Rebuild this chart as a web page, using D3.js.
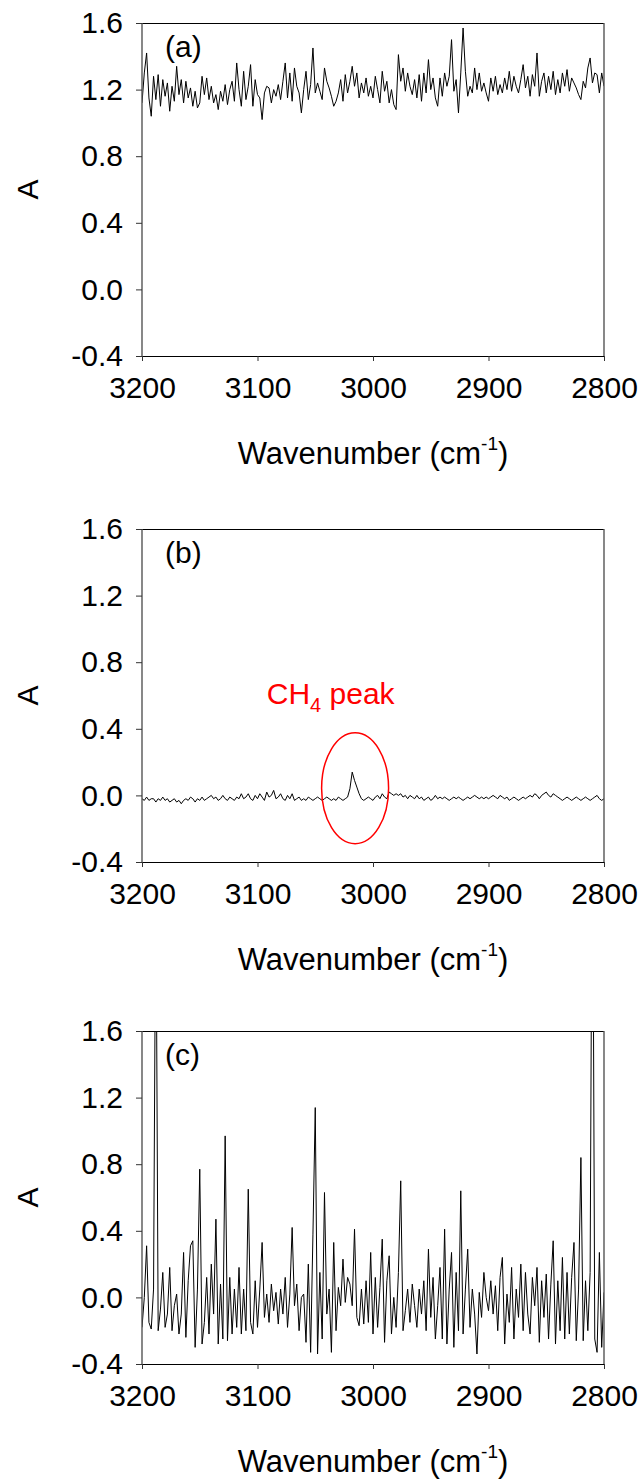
<!DOCTYPE html>
<html>
<head>
<meta charset="utf-8">
<script src="https://cdn.jsdelivr.net/npm/d3@7"></script>
<style>
  body { margin: 0; background: #fff; }
  text { font-family: "Liberation Sans", Arial, sans-serif; }
</style>
</head>
<body>
<div id="fig"></div>
<script>
const fig_width = 643
const fig_height = 1482

// wavenumber grid of the spectra, 2 cm-1 steps from 3200 down to 2800
const wavenumbers = d3.range(3200, 2799, -2)

// (a) absorbance
const absorbance_a = [
  1.12, 1.30, 1.42, 1.15, 1.04, 1.28, 1.14, 1.29, 1.10, 1.26,
  1.16, 1.24, 1.07, 1.22, 1.13, 1.34, 1.17, 1.26, 1.12, 1.25,
  1.15, 1.21, 1.10, 1.19, 1.09, 1.12, 1.28, 1.17, 1.27, 1.14,
  1.22, 1.12, 1.17, 1.08, 1.19, 1.13, 1.23, 1.11, 1.20, 1.25,
  1.13, 1.36, 1.20, 1.10, 1.31, 1.14, 1.22, 1.35, 1.10, 1.26,
  1.17, 1.15, 1.02, 1.18, 1.22, 1.21, 1.12, 1.20, 1.16, 1.23,
  1.14, 1.25, 1.36, 1.15, 1.30, 1.13, 1.33, 1.22, 1.18, 1.06,
  1.20, 1.31, 1.14, 1.23, 1.45, 1.18, 1.24, 1.19, 1.14, 1.33,
  1.25, 1.21, 1.16, 1.10, 1.13, 1.18, 1.26, 1.13, 1.29, 1.18,
  1.25, 1.34, 1.22, 1.30, 1.15, 1.24, 1.18, 1.27, 1.16, 1.22,
  1.15, 1.28, 1.20, 1.12, 1.31, 1.19, 1.25, 1.12, 1.20, 1.11,
  1.08, 1.41, 1.25, 1.33, 1.19, 1.30, 1.22, 1.17, 1.26, 1.15,
  1.29, 1.13, 1.30, 1.18, 1.38, 1.20, 1.27, 1.15, 1.10, 1.27,
  1.16, 1.30, 1.22, 1.28, 1.50, 1.19, 1.26, 1.06, 1.30, 1.57,
  1.31, 1.16, 1.22, 1.18, 1.33, 1.20, 1.30, 1.19, 1.24, 1.18,
  1.13, 1.27, 1.19, 1.28, 1.17, 1.23, 1.18, 1.27, 1.20, 1.31,
  1.19, 1.28, 1.22, 1.18, 1.26, 1.35, 1.21, 1.28, 1.16, 1.29,
  1.22, 1.42, 1.16, 1.25, 1.30, 1.18, 1.28, 1.20, 1.31, 1.17,
  1.26, 1.18, 1.30, 1.22, 1.32, 1.19, 1.27, 1.24, 1.21, 1.17,
  1.14, 1.25, 1.21, 1.33, 1.39, 1.24, 1.30, 1.29, 1.18, 1.30,
  1.22
]

// (b) absorbance, flat with the CH4 band near 3017
const absorbance_b = [
  -0.02, -0.03, -0.01, -0.03, -0.02, -0.02, -0.04, -0.02, -0.03, -0.01,
  -0.03, -0.02, -0.04, -0.03, -0.02, -0.04, -0.03, -0.05, -0.03, -0.02,
  -0.03, -0.01, -0.02, -0.04, -0.02, -0.03, -0.01, -0.03, -0.02, -0.01,
  0.00, -0.02, -0.01, -0.03, -0.02, 0.00, -0.02, -0.03, -0.01, -0.02,
  -0.03, -0.01, -0.02, 0.01, -0.02, -0.01, 0.01, -0.02, -0.03, 0.00,
  -0.02, 0.01, -0.01, -0.03, 0.02, -0.01, 0.00, 0.03, -0.02, -0.01,
  0.01, -0.02, -0.03, 0.00, -0.02, 0.01, -0.03, -0.02, -0.01, -0.03,
  -0.02, -0.03, -0.01, -0.02, -0.03, -0.02, -0.01, -0.02, -0.03, -0.02,
  -0.01, -0.02, -0.03, -0.02, -0.03, -0.01, -0.02, -0.03, -0.02, -0.01,
  0.04, 0.14, 0.09, 0.05, 0.01, -0.02, -0.03, -0.02, -0.01, -0.02,
  -0.03, -0.01, 0.00, -0.02, 0.01, -0.01, -0.02, 0.02, 0.01, 0.00,
  0.01, 0.00, 0.01, -0.01, 0.00, -0.02, 0.00, -0.01, -0.02, 0.00,
  -0.02, -0.01, -0.03, -0.02, -0.01, -0.03, -0.02, 0.00, -0.02, -0.01,
  -0.02, -0.01, -0.02, -0.03, -0.02, -0.01, -0.02, -0.01, -0.02, -0.03,
  -0.02, -0.01, -0.02, -0.01, 0.00, -0.01, -0.02, -0.01, -0.02, -0.01,
  -0.02, -0.01, 0.00, -0.01, -0.02, 0.00, -0.01, -0.02, -0.01, -0.03,
  -0.02, -0.01, -0.02, -0.03, -0.02, -0.01, -0.02, -0.01, 0.00, -0.01,
  0.01, 0.00, -0.02, 0.00, 0.01, 0.02, 0.00, -0.01, 0.01, 0.00,
  -0.01, -0.02, -0.03, -0.02, -0.01, -0.02, -0.03, -0.02, -0.01, -0.02,
  -0.03, -0.02, -0.01, -0.02, -0.03, -0.02, -0.01, 0.00, -0.02, -0.03,
  -0.02
]

// (c) absorbance, noisy with two spikes running off the top
const absorbance_c = [
  -0.18, 0.00, 0.31, -0.15, -0.19, 0.05, 2.60, -0.20, -0.07, 0.15,
  -0.18, -0.10, 0.18, -0.20, -0.05, 0.02, -0.22, -0.10, 0.27, -0.24,
  0.10, 0.31, 0.34, -0.30, 0.05, 0.77, -0.28, -0.15, 0.12, -0.22,
  0.20, -0.10, 0.47, -0.28, 0.08, -0.25, 0.97, -0.26, 0.12, -0.22,
  0.05, -0.18, 0.18, -0.22, 0.05, -0.20, 0.65, -0.15, -0.22, 0.10,
  -0.18, 0.05, 0.33, -0.12, 0.02, -0.15, 0.08, -0.08, 0.03, -0.16,
  0.05, -0.10, 0.12, -0.18, 0.02, 0.42, -0.05, 0.08, -0.20, 0.00,
  0.02, -0.27, 0.20, -0.33, 0.38, 1.14, -0.34, 0.15, -0.25, 0.63,
  -0.10, 0.05, -0.33, 0.33, -0.20, 0.06, -0.05, 0.23, -0.03, 0.12,
  0.08, -0.05, 0.41, -0.12, -0.17, 0.05, -0.16, 0.10, -0.15, 0.27,
  -0.22, 0.12, -0.18, 0.06, 0.35, -0.27, 0.10, 0.25, -0.22, 0.00,
  -0.18, 0.15, 0.70, -0.20, -0.08, 0.05, -0.15, 0.08, -0.05, -0.18,
  0.05, -0.10, 0.10, -0.20, 0.29, -0.12, 0.12, -0.25, -0.05, 0.18,
  -0.25, 0.41, -0.28, 0.05, 0.27, -0.30, 0.15, -0.20, 0.64, -0.22,
  0.05, 0.29, -0.18, 0.05, -0.10, -0.34, 0.03, -0.12, 0.15, 0.00,
  -0.08, 0.10, -0.10, 0.07, -0.20, 0.12, 0.24, -0.28, 0.02, -0.15,
  0.18, -0.25, 0.05, -0.12, 0.20, -0.20, 0.15, -0.10, -0.22, 0.12,
  -0.05, 0.18, -0.27, 0.10, -0.12, 0.14, -0.25, 0.08, 0.34, -0.28,
  0.10, -0.20, 0.24, -0.25, 0.15, -0.22, 0.12, 0.33, -0.26, 0.05,
  0.84, -0.26, 0.10, -0.20, 0.15, 3.20, -0.25, -0.33, 0.27, -0.30,
  0.03
]

const x_ticks = [3200, 3100, 3000, 2900, 2800]
const y_ticks = [-0.4, 0.0, 0.4, 0.8, 1.2, 1.6]
const panel_labels = ['(a)', '(b)', '(c)']
const panel_series = [absorbance_a, absorbance_b, absorbance_c]

// ellipse around the methane band in (b), in data units
const ch4_mark = {wn: 3015.5, a: 0.043, rx: 29, ry: 0.333}
const ch4_label = {wn: 3092, a: 0.546}

const plot_left = 142
const plot_right = 604
const plot_h = 333
const panel_tops = [23, 529, 1031]
const font_size = 30
const title_size = 31

let fig = d3.select('#fig')
    .append('svg')
    .attr('width', fig_width)
    .attr('height', fig_height)
    .style('background', '#fff')

let x = d3.scaleLinear()
    .domain([3200, 2800])
    .range([plot_left, plot_right])

panel_series.forEach((series, k) => {
    let top = panel_tops[k]
    let y = d3.scaleLinear()
        .domain([-0.4, 1.6])
        .range([top + plot_h, top])

    let g = fig.append('g')

    g.append('clipPath')
        .attr('id', `clip-${k}`)
        .append('rect')
        .attr('x', plot_left)
        .attr('y', top)
        .attr('width', plot_right - plot_left)
        .attr('height', plot_h)

    // spectrum
    let line = d3.line()
        .x((d, i) => x(wavenumbers[i]))
        .y(d => y(d))

    g.append('path')
        .datum(series)
        .attr('clip-path', `url(#clip-${k})`)
        .attr('fill', 'none')
        .attr('stroke', '#000')
        .attr('stroke-width', 1)
        .attr('d', line)

    // frame: top and right edges
    g.append('line')
        .attr('x1', plot_left).attr('x2', plot_right)
        .attr('y1', top + 0.5).attr('y2', top + 0.5)
        .attr('stroke', '#000')
    g.append('line')
        .attr('x1', plot_right).attr('x2', plot_right)
        .attr('y1', top).attr('y2', top + plot_h)
        .attr('stroke', '#555').attr('stroke-width', 1.4)

    // axes
    let x_axis = d3.axisBottom(x)
        .tickValues(x_ticks)
        .tickSize(5)
        .tickPadding(11)
        .tickFormat(d3.format('d'))
    let y_axis = d3.axisLeft(y)
        .tickValues(y_ticks)
        .tickSize(6)
        .tickPadding(13)
        .tickFormat(d => d.toFixed(1))

    let gx = g.append('g')
        .attr('transform', `translate(0,${top + plot_h})`)
        .call(x_axis)
    let gy = g.append('g')
        .attr('transform', `translate(${plot_left},0)`)
        .call(y_axis)

    gx.select('.domain').attr('stroke', '#000').attr('d', `M${plot_left},0.5H${plot_right}`)
    gy.select('.domain').attr('stroke', '#555').attr('stroke-width', 1.4).attr('d', `M0,${top}V${top + plot_h}`)
    gx.selectAll('.tick line').attr('stroke', '#333')
    gy.selectAll('.tick line').attr('stroke', '#333')
    ;[gx, gy].forEach(a => a.selectAll('text')
        .attr('fill', '#000')
        .style('font-size', `${font_size}px`)
        .style('font-family', '"Liberation Sans", Arial, sans-serif'))
    gx.selectAll('text').attr('dy', '0.85em')

    // axis titles
    g.append('text')
        .attr('transform', `translate(38,${top + plot_h / 2}) rotate(-90)`)
        .attr('text-anchor', 'middle')
        .style('font-size', `${font_size}px`)
        .text('A')

    let xt = g.append('text')
        .attr('x', (plot_left + plot_right) / 2)
        .attr('y', top + plot_h + 108)
        .attr('text-anchor', 'middle')
        .style('font-size', `${title_size}px`)
    xt.append('tspan').text('Wavenumber (cm')
    xt.append('tspan').attr('dy', -14).style('font-size', '19px').text('-1')
    xt.append('tspan').attr('dy', 14).text(')')

    // panel letter
    g.append('text')
        .attr('x', 165)
        .attr('y', top + 34)
        .style('font-size', `${font_size}px`)
        .text(panel_labels[k])

    if (k === 1) {
        g.append('ellipse')
            .attr('cx', x(ch4_mark.wn))
            .attr('cy', y(ch4_mark.a))
            .attr('rx', Math.abs(x(ch4_mark.wn + ch4_mark.rx) - x(ch4_mark.wn)))
            .attr('ry', Math.abs(y(ch4_mark.a + ch4_mark.ry) - y(ch4_mark.a)))
            .attr('fill', 'none')
            .attr('stroke', '#ff0000')
            .attr('stroke-width', 1.5)

        let lbl = g.append('text')
            .attr('x', x(ch4_label.wn))
            .attr('y', y(ch4_label.a))
            .attr('fill', '#ff0000')
            .style('font-size', `${font_size}px`)
        lbl.append('tspan').text('CH')
        lbl.append('tspan').attr('dy', 8).style('font-size', '20px').text('4')
        lbl.append('tspan').attr('dy', -8).text(' peak')
    }
})
</script>
</body>
</html>
